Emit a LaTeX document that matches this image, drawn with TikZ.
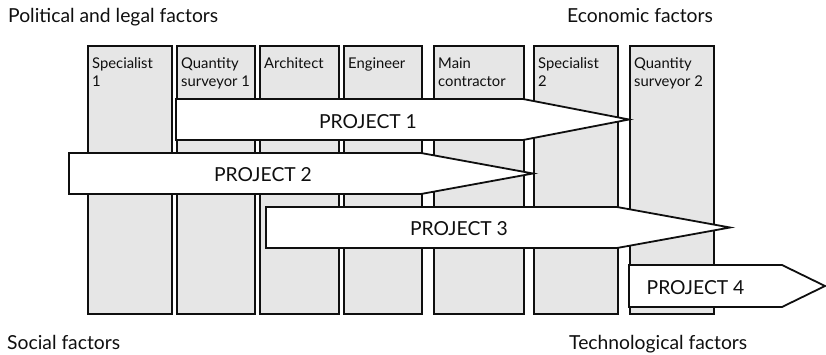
\documentclass[tikz,border=0pt]{standalone}
\usepackage{fontspec}
\setmainfont{Lato}
\usetikzlibrary{calc}

\definecolor{colfill}{RGB}{230,230,230}
\definecolor{ink}{RGB}{15,15,15}

\tikzset{
  x=1pt, y=-1pt,
  column/.style={draw=ink, line width=1.8pt, fill=colfill, anchor=north west,
    minimum height=268pt, inner sep=0pt},
  collabel/.style={anchor=north west, inner sep=0pt, align=left,
    font=\fontsize{14.8}{18}\selectfont, text=ink},
  project/.style={draw=ink, line width=1.8pt, fill=white, line join=miter},
  projlabel/.style={anchor=base, inner sep=0pt, font=\fontsize{19.3}{22}\selectfont, text=ink},
  factor/.style={anchor=base west, inner sep=0pt, font=\fontsize{19.3}{22}\selectfont, text=ink}
}

\begin{document}
\begin{tikzpicture}
\useasboundingbox (0,0) rectangle (826,355);
\clip (0,0) rectangle (826,355);

% participant columns
\node[column, minimum width=84pt] (s1) at (87,45) {};
\node[column, minimum width=78pt] (q1) at (176,45) {};
\node[column, minimum width=79pt] (ar) at (259,45) {};
\node[column, minimum width=78pt] (en) at (343,45) {};
\node[column, minimum width=90pt] (mc) at (433,45) {};
\node[column, minimum width=84pt] (s2) at (533,45) {};
\node[column, minimum width=84pt] (q2) at (629,45) {};

\node[collabel] (s1t) at ($(s1.north west)+(5,12.5)$) {Specialist\\1};
\node[collabel] (q1t) at ($(q1.north west)+(5,12.5)$) {Quantity\\surveyor 1};
\node[collabel] (art) at ($(ar.north west)+(5,12.5)$) {Architect};
\node[collabel] (ent) at ($(en.north west)+(5,12.5)$) {Engineer};
\node[collabel] (mct) at ($(mc.north west)+(5,12.5)$) {Main\\contractor};
\node[collabel] (s2t) at ($(s2.north west)+(5,12.5)$) {Specialist\\2};
\node[collabel] (q2t) at ($(q2.north west)+(5,12.5)$) {Quantity\\surveyor 2};

% project arrows
\draw[project] (176,99) -- (523,99) -- (629,119.5) -- (523,140) -- (176,140) -- cycle;
\node[projlabel] (p1) at (368,129) {PROJECT 1};

\draw[project] (69,153) -- (421,153) -- (533,173.5) -- (421,194) -- (69,194) -- cycle;
\node[projlabel] (p2) at (263,182) {PROJECT 2};

\draw[project] (266,207) -- (617,207) -- (730,227.5) -- (617,248) -- (266,248) -- cycle;
\node[projlabel] (p3) at (459,235) {PROJECT 3};

\draw[project] (629,265) -- (782,265) -- (825,286) -- (782,307) -- (629,307) -- cycle;
\node[projlabel] (p4) at (695.5,294) {PROJECT 4};

% surrounding factors
\node[factor] (pol) at (8,23) {Political and legal factors};
\node[factor] (eco) at (567,23) {Economic factors};
\node[factor] (soc) at (7,349) {Social factors};
\node[factor] (tec) at (569,349) {Technological factors};
\end{tikzpicture}
\end{document}
